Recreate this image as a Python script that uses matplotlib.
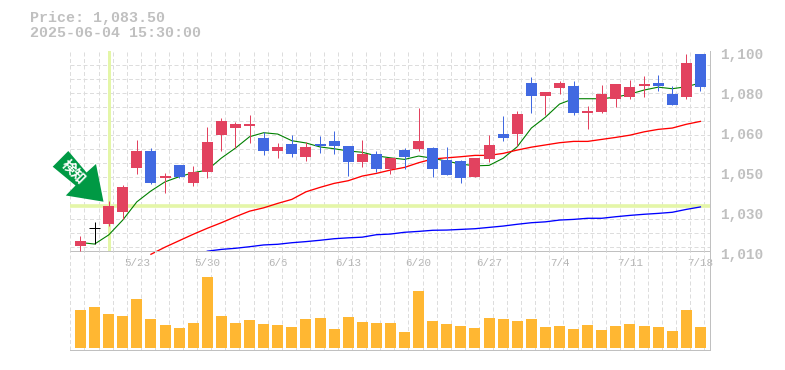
import matplotlib
matplotlib.use("Agg")
import numpy as np
import matplotlib.pyplot as plt
from matplotlib.patches import Polygon
from matplotlib.transforms import ScaledTranslation

title_lines = ["Price: 1,083.50", "2025-06-04 15:30:00"]
date_labels = ["5/23", "5/30", "6/6", "6/13", "6/20", "6/27", "7/4", "7/11", "7/18"]
date_index = [4, 9, 14, 19, 24, 29, 34, 39, 44]
price_ticks = [1100, 1082, 1064, 1046, 1028, 1010]
price_labels = ["1,100", "1,080", "1,060", "1,050", "1,030", "1,010"]

opens = [1012.0, 1020.0, 1021.9, 1027.3, 1047.1, 1054.8, 1042.6, 1048.5, 1040.4, 1045.3,
         1062.0, 1065.1, 1066.0, 1060.6, 1054.8, 1057.9, 1052.1, 1057.9, 1059.3, 1057.0,
         1049.8, 1053.4, 1046.7, 1055.2, 1055.7, 1056.1, 1050.7, 1050.3, 1043.1, 1051.2,
         1062.4, 1062.4, 1085.4, 1079.5, 1083.1, 1084.0, 1071.8, 1072.3, 1078.1, 1079.0,
         1084.0, 1085.4, 1080.4, 1079.0, 1098.4]
highs = [1016.5, 1022.7, 1032.3, 1039.5, 1059.7, 1056.1, 1044.9, 1048.5, 1048.0, 1065.5,
         1069.6, 1067.8, 1071.0, 1063.3, 1058.4, 1062.0, 1058.8, 1061.5, 1063.7, 1057.0,
         1059.7, 1054.8, 1051.6, 1056.1, 1074.1, 1056.6, 1056.6, 1050.7, 1051.6, 1062.0,
         1070.5, 1072.7, 1088.0, 1081.3, 1086.3, 1086.3, 1075.0, 1084.5, 1084.9, 1086.7,
         1088.5, 1088.9, 1084.0, 1098.4, 1098.4]
lows = [1009.8, 1012.8, 1021.0, 1024.2, 1044.4, 1039.9, 1035.9, 1042.6, 1039.0, 1042.6,
        1054.8, 1056.1, 1058.4, 1053.0, 1051.6, 1052.1, 1050.3, 1053.9, 1053.4, 1043.5,
        1047.6, 1045.3, 1044.4, 1046.7, 1054.8, 1043.1, 1044.0, 1040.4, 1043.1, 1049.8,
        1059.3, 1057.0, 1071.8, 1071.0, 1080.4, 1071.0, 1064.6, 1071.8, 1074.5, 1078.1,
        1079.0, 1081.7, 1075.4, 1078.1, 1081.7]
closes = [1014.3, 1020.0, 1030.0, 1038.6, 1054.8, 1040.4, 1043.5, 1043.1, 1045.3, 1058.8,
          1068.2, 1066.9, 1066.9, 1054.8, 1056.6, 1053.4, 1056.6, 1057.0, 1057.0, 1049.8,
          1053.4, 1046.7, 1051.6, 1052.1, 1059.3, 1046.7, 1044.0, 1042.6, 1051.6, 1057.5,
          1060.6, 1071.4, 1079.5, 1081.3, 1085.4, 1071.8, 1072.7, 1080.4, 1084.9, 1083.5,
          1084.9, 1084.0, 1075.4, 1094.4, 1083.5]

ma_short = [1013.6, 1012.9, 1017.0, 1023.7, 1031.9, 1036.8, 1040.9, 1043.2, 1045.0, 1046.2,
            1051.6, 1056.1, 1061.2, 1063.0, 1062.4, 1059.4, 1058.4, 1056.6, 1055.8, 1054.8,
            1054.2, 1052.6, 1051.7, 1051.0, 1052.5, 1051.5, 1050.2, 1048.9, 1048.1, 1048.3,
            1051.5, 1056.7, 1065.1, 1070.0, 1075.9, 1078.3, 1078.3, 1078.3, 1079.0, 1080.4,
            1082.2, 1083.5, 1082.8, 1083.7, 1085.4]
ma_mid = [1008.3, 1011.5, 1014.4, 1017.3, 1020.0, 1022.5, 1025.2, 1027.7, 1029.2, 1031.2,
          1033.0, 1036.4, 1038.4, 1040.2, 1041.4, 1043.5, 1044.7, 1046.2, 1047.4, 1049.5,
          1051.2, 1051.7, 1052.2, 1052.8, 1052.8, 1053.7, 1055.2, 1056.5, 1057.5, 1058.5,
          1059.1, 1059.1, 1060.0, 1060.9, 1061.9, 1063.4, 1064.5, 1065.1, 1066.8, 1068.1]
ma_long = [1009.7, 1010.5, 1011.0, 1011.7, 1012.5, 1012.8, 1013.5, 1014.0, 1014.6, 1015.3,
           1015.7, 1016.0, 1017.1, 1017.4, 1018.2, 1018.6, 1019.1, 1019.2, 1019.5, 1019.8,
           1020.4, 1021.0, 1021.8, 1022.5, 1022.9, 1023.7, 1024.0, 1024.5, 1024.5, 1025.2,
           1025.8, 1026.3, 1026.7, 1027.2, 1028.5, 1029.6]
volumes = [38, 41, 34, 32, 49, 29, 23, 20, 25, 71, 32, 25, 28, 24, 23, 21, 29, 30, 19, 31,
           26, 25, 25, 16, 57, 27, 24, 22, 20, 30, 29, 27, 29, 21, 22, 19, 23, 18, 22, 24,
           22, 21, 17, 38, 21]

W, H = 785, 370
MONO = "Liberation Mono"
GREY = "#c0c0c0"
GRID = "#dddddd"
UP, DOWN = "#e2425f", "#4169e1"
MARK = "#e4f6a8"

fig = plt.figure(figsize=(W / 100, H / 100), dpi=100)
def rect(l, t, r, b):
    return [l / W, 1 - b / H, (r - l) / W, (b - t) / H]

ax = fig.add_axes(rect(70, 50.5, 710, 250.5))
av = fig.add_axes(rect(70, 250.5, 710, 350.3))
xlim = (-0.745, 44.68)
idx = np.arange(len(closes))

for a in (ax, av):
    a.set_xlim(*xlim)
    a.set_facecolor("none")
    a.set_axisbelow(True)
    for s in ("left", "top"):
        a.spines[s].set_visible(False)
    for s in ("right", "bottom"):
        a.spines[s].set_color(GREY)
        a.spines[s].set_linewidth(0.72)
    a.set_xticks(np.arange(-1, 45) + 0.28, minor=True)
    a.tick_params(which="both", length=0)
    a.grid(True, which="minor", axis="x", color=GRID, lw=0.72, ls=(0, (4, 2.5)))

ax.set_ylim(1010, 1100)
ax.set_yticks(1100 - 6.33 * np.arange(15), minor=True)
ax.grid(True, which="minor", axis="y", color=GRID, lw=0.72, ls=(0, (4, 2.5)))
ax.yaxis.tick_right()
ax.set_yticks(price_ticks)
ax.set_yticklabels(price_labels, family=MONO, fontsize=10.4, color=GREY, fontweight="bold")
ax.tick_params(axis="y", which="major", pad=7)
shift = ScaledTranslation(0, -2.5 / 100, fig.dpi_scale_trans)
for lab in ax.get_yticklabels():
    lab.set_transform(lab.get_transform() + shift)
ax.set_xticks(date_index)
ax.set_xticklabels(date_labels, family=MONO, fontsize=7.8, color="#b4b4b4")
ax.tick_params(axis="x", which="major", pad=5.5)
av.set_xticks([])
av.set_yticks([])

ax.axvline(2, color=MARK, lw=2.16, zorder=1.5)
ax.axhline(closes[2], color=MARK, lw=2.6, zorder=1.5)

ax.plot(idx, ma_short, color="#008000", lw=0.8, zorder=2, clip_on=False)
ax.plot(idx[5:], ma_mid, color="#ff0000", lw=0.95, zorder=2, clip_on=False)
ax.plot(idx[9:], ma_long, color="#0000ff", lw=0.95, zorder=2, clip_on=False)

for i, (o, h, l, c) in enumerate(zip(opens, highs, lows, closes)):
    col = UP if c > o else DOWN if c < o else "#000000"
    ax.vlines(i, l, h, color=col, lw=0.72, zorder=3, clip_on=False)
    if c == o:
        ax.hlines(c, i - 0.39, i + 0.39, color=col, lw=0.72, zorder=3)
    else:
        ax.bar(i, abs(c - o), bottom=min(o, c), width=0.78, color=col, zorder=3,
               linewidth=0, antialiased=False)

av.set_ylim(-2.3, 97.5)
av.bar(idx, volumes, width=0.78, color="#ffb732", linewidth=0, zorder=3, antialiased=False)

over = fig.add_axes([0, 0, 1, 1], zorder=5)
over.set_xlim(0, W)
over.set_ylim(H, 0)
over.axis("off")
over.add_patch(Polygon([(68.3, 151), (52.7, 166.7), (75.5, 185.5), (65.8, 195.5), (103.5, 201.7),
                        (96, 164), (86.5, 172.5)], closed=True, fc="#009944", ec="none"))
over.text(73.5, 172.5, "検知", rotation=-45, rotation_mode="anchor", ha="center", va="center",
          color="white", fontsize=10, fontweight="bold",
          family=["Noto Sans CJK JP", "DejaVu Sans"])

fig.text(30 / W, 1 - 18 / H, title_lines[0], family=MONO, fontsize=10.8, color=GREY,
         ha="left", va="center", fontweight="bold")
fig.text(30 / W, 1 - 33 / H, title_lines[1], family=MONO, fontsize=10.8, color=GREY,
         ha="left", va="center", fontweight="bold")

fig.savefig("out.png", dpi=100)
